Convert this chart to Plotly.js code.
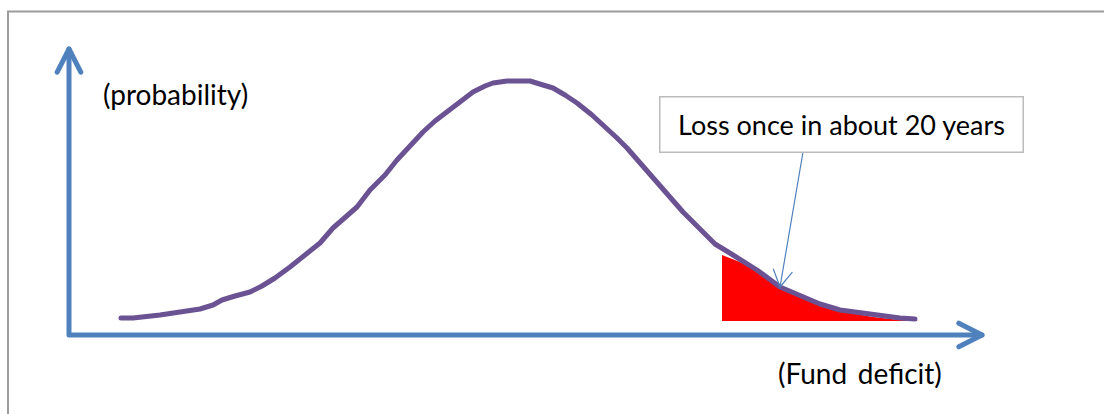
<!DOCTYPE html>
<html>
<head>
<meta charset="utf-8">
<script src="https://cdn.plot.ly/plotly-3.0.1.min.js"></script>
<style>
  html, body { margin: 0; padding: 0; background: #ffffff; }
  #chart { width: 1104px; height: 414px; }
  .js-line { stroke-linecap: round; stroke-linejoin: round; }
</style>
</head>
<body>
<div id="chart"></div>
<script>
// Loss distribution of the fund deficit (schematic density curve)
const deficit = [52, 64, 91, 116, 131, 144, 153, 166, 181, 193, 206, 221, 236, 251, 264, 276, 288, 301, 316, 328,
                 341, 354, 366, 378, 391, 404, 416, 424, 438, 461, 474, 484, 496, 508, 523, 538, 548, 558, 571, 581,
                 591, 601, 614, 626, 636, 646, 664, 688, 711, 731, 751, 771, 804, 831, 846];
const probability = [17, 17, 20, 23, 26, 30, 35, 39, 43, 49, 57, 68, 80, 92, 107, 117, 128, 145, 160, 175,
                     189, 203, 214, 223, 234, 243, 249, 252, 254, 254, 250, 247, 240, 232, 220, 207, 197, 187, 172, 162,
                     150, 138, 123, 111, 101, 91, 80, 65, 48, 39, 31, 25, 20, 17, 16];

// Right tail: the loss region (about once in 20 years)
const tailDeficit = [653, 671, 691, 711, 731, 751, 771, 804, 831, 851];
const tailProbability = [80, 73, 62, 47, 38, 30, 24, 18, 15, 14];
const tailBase = 14;

// Texts
const yLabel = '(probability)';
const xLabel = '(Fund\u2009 deficit)';
const calloutText = 'Loss once in about 20 years';

// Axis arrows and the callout pointer (data coordinates)
const xAxisEnd = 913;
const yAxisEnd = 286;
const calloutCenter = [772, 210.5];
const pointerFrom = [734, 183];
const pointerTo = [711, 48];

const AXIS_BLUE = '#4F81BD';
const CURVE_PURPLE = '#6A5293';

// Open chevron arrowhead at a tip, pointing along (from -> tip)
function chevron(from, tip, len, halfAngleDeg) {
  const dx = tip[0] - from[0], dy = tip[1] - from[1];
  const ang = Math.atan2(dy, dx);
  const a = halfAngleDeg * Math.PI / 180;
  const p1 = [tip[0] - len * Math.cos(ang - a), tip[1] - len * Math.sin(ang - a)];
  const p2 = [tip[0] - len * Math.cos(ang + a), tip[1] - len * Math.sin(ang + a)];
  return { x: [p1[0], tip[0], p2[0]], y: [p1[1], tip[1], p2[1]] };
}

const xHead = chevron([0, 0], [xAxisEnd, 0], 26, 27);
const yHead = chevron([0, 0], [0, yAxisEnd], 26, 27);
const pHead = chevron(pointerFrom, pointerTo, 19, 30);

// Closed polygon for the shaded tail
const tailX = tailDeficit.concat([tailDeficit[tailDeficit.length - 1], tailDeficit[0]]);
const tailY = tailProbability.concat([tailBase, tailBase]);

const traces = [
  { x: tailX, y: tailY, mode: 'lines', fill: 'toself', fillcolor: '#FF0000',
    line: { width: 0, color: '#FF0000' }, hoverinfo: 'skip' },
  { x: [0, 0, xAxisEnd], y: [yAxisEnd, 0, 0], mode: 'lines',
    line: { color: AXIS_BLUE, width: 5 }, hoverinfo: 'skip' },
  { x: xHead.x, y: xHead.y, mode: 'lines', line: { color: AXIS_BLUE, width: 5 }, hoverinfo: 'skip' },
  { x: yHead.x, y: yHead.y, mode: 'lines', line: { color: AXIS_BLUE, width: 5 }, hoverinfo: 'skip' },
  { x: deficit, y: probability, mode: 'lines',
    line: { color: CURVE_PURPLE, width: 5 }, hoverinfo: 'skip' },
  { x: [pointerFrom[0], pointerTo[0]], y: [pointerFrom[1], pointerTo[1]], mode: 'lines',
    line: { color: AXIS_BLUE, width: 1.2 }, hoverinfo: 'skip' },
  { x: pHead.x, y: pHead.y, mode: 'lines', line: { color: AXIS_BLUE, width: 1.2 }, hoverinfo: 'skip' }
];

const layout = {
  width: 1104,
  height: 414,
  margin: { l: 0, r: 0, t: 0, b: 0 },
  paper_bgcolor: '#ffffff',
  plot_bgcolor: '#ffffff',
  showlegend: false,
  font: { family: 'Lato, "Open Sans", sans-serif', color: '#000000' },
  xaxis: { range: [-69, 1035], visible: false, fixedrange: true },
  yaxis: { range: [-79, 335], visible: false, fixedrange: true },
  shapes: [
    // outer frame (left and top edges)
    { type: 'path', xref: 'x', yref: 'y', path: 'M -61,-90 L -61,323.5 L 1040,323.5',
      line: { color: '#9C9C9C', width: 2 } }
  ],
  annotations: [
    { x: 32, y: 241, xref: 'x', yref: 'y', xanchor: 'left', yanchor: 'middle', showarrow: false,
      text: yLabel, font: { size: 28, color: '#000000' } },
    { x: 707, y: -38, xref: 'x', yref: 'y', xanchor: 'left', yanchor: 'middle', showarrow: false,
      text: xLabel, font: { size: 28, color: '#000000' } },
    { x: calloutCenter[0], y: calloutCenter[1], xref: 'x', yref: 'y', xanchor: 'center', yanchor: 'middle',
      showarrow: false, text: calloutText, font: { size: 27, color: '#000000' },
      bgcolor: '#ffffff', bordercolor: '#BBBBBB', borderwidth: 1.5, width: 360, height: 52 }
  ]
};

Plotly.newPlot('chart', traces, layout, { staticPlot: true, displayModeBar: false });
</script>
</body>
</html>
